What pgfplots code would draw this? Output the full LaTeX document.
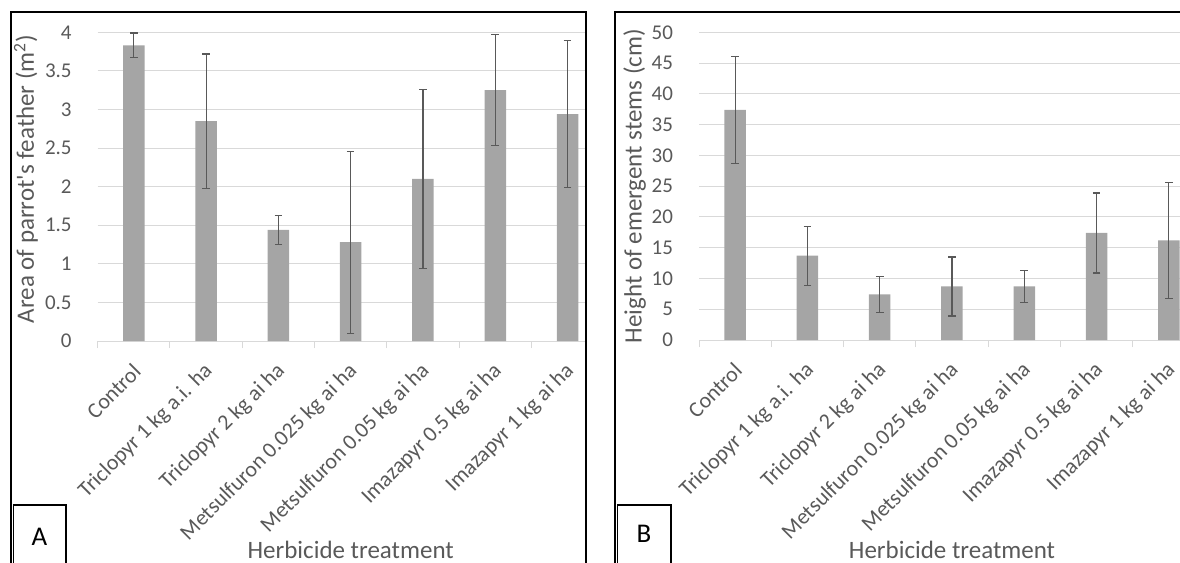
\documentclass[border=0pt]{standalone}
\usepackage{pgfplots}
\pgfplotsset{compat=1.18}
\usepackage{pgfplotstable}
\usepackage{fontspec}
\setmainfont{Carlito}
\definecolor{bargray}{HTML}{A5A5A5}
\definecolor{gridgray}{HTML}{D9D9D9}
\definecolor{txtgray}{HTML}{595959}
\definecolor{errgray}{HTML}{595959}

\pgfplotstableread{
x y err
0 3.83 0.16
1 2.85 0.87
2 1.44 0.19
3 1.28 1.18
4 2.10 1.16
5 3.25 0.72
6 2.94 0.95
}\dataA

\pgfplotstableread{
x y err
0 37.4 8.7
1 13.7 4.8
2 7.4 2.9
3 8.7 4.8
4 8.7 2.6
5 17.4 6.5
6 16.2 9.4
}\dataB

\pgfplotsset{
  excelbar/.style={
    scale only axis,
    width=253pt,
    xmin=-0.5, xmax=6.5,
    ymin=0,
    axis x line*=bottom,
    axis y line*=left,
    x axis line style={-, draw=gridgray, line width=0.5pt},
    y axis line style={draw=none},
    xtick={-0.5,0.5,...,6.5},
    xticklabels={,,,,,,,},
    tick align=outside,
    major tick length=3.5pt,
    xtick style={draw=gridgray, line width=0.5pt},
    ytick style={draw=none},
    extra x ticks={0,1,2,3,4,5,6},
    extra x tick labels={Control, Triclopyr 1 kg a.i. ha, Triclopyr 2 kg ai ha, Metsulfuron 0.025 kg ai ha, Metsulfuron 0.05 kg ai ha, Imazapyr 0.5 kg ai ha, Imazapyr 1 kg ai ha},
    extra x tick style={major tick length=0pt},
    tick label style={font=\fontsize{10.5}{12}\selectfont, text=txtgray},
    xticklabel style={xshift=4pt, yshift=-11pt, rotate=45, anchor=east, font=\fontsize{11}{12}\selectfont},
    ymajorgrids,
    major grid style={draw=gridgray, line width=0.5pt},
    yticklabel style={xshift=-6pt},
    /pgf/number format/assume math mode=true,
    label style={font=\fontsize{12.5}{14}\selectfont, text=txtgray},
    xlabel={Herbicide treatment},
  },
  excelplot/.style={
    ybar, bar width=10.75pt, fill=bargray, draw=none,
    error bars/.cd, y dir=both, y explicit,
    error bar style={draw=errgray, line width=0.55pt},
    error mark options={rotate=90, draw=errgray, line width=0.6pt, mark size=1.9pt},
  },
}

\begin{document}
\begin{tikzpicture}[x=0.5pt,y=0.5pt]
\useasboundingbox (0,0) rectangle (1180,563);
\begin{scope}
\clip (11,0) rectangle (586,551);
\begin{axis}[excelbar, at={(48.85pt,111pt)}, anchor=south west,
  height=154.35pt, ymax=4, ytick={0,0.5,...,4},
  ylabel={Area of parrot\textquotesingle s feather (m\textsuperscript{2})},
  ylabel style={at={(axis description cs:-0.1259,0.525)}, anchor=base},
  xlabel style={at={(axis description cs:0.5,-0.703)}, anchor=base}]
\addplot[excelplot] table[x=x, y=y, y error=err]{\dataA};
\end{axis}
\end{scope}
\begin{scope}
\clip (615,0) rectangle (1180,551);
\begin{axis}[excelbar, at={(349.5pt,111.5pt)}, anchor=south west,
  height=153.85pt, ymax=50, ytick={0,5,...,50},
  ylabel={Height of emergent stems (cm)},
  ylabel style={at={(axis description cs:-0.1132,0.5)}, anchor=base},
  xlabel style={at={(axis description cs:0.5,-0.7085)}, anchor=base}]
\addplot[excelplot] table[x=x, y=y, y error=err]{\dataB};
\end{axis}
\end{scope}
\draw[line width=1pt] (11,-5) -- (11,551) -- (586,551) -- (586,-5);
\draw[line width=1pt] (615,-5) -- (615,551) -- (1190,551);
\draw[line width=0.8pt] (13.5,-5) rectangle (66,58);
\node[anchor=base, font=\fontsize{13.5}{15}\selectfont] at (39.5,18) {A};
\draw[line width=0.8pt] (617.5,-5) rectangle (671,58);
\node[anchor=base, font=\fontsize{13.5}{15}\selectfont] at (644,20) {B};
\end{tikzpicture}
\end{document}
